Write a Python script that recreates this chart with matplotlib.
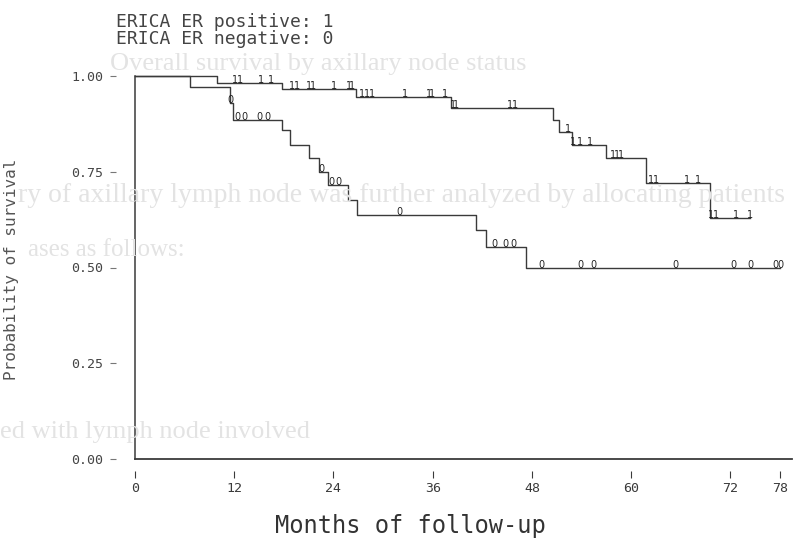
import numpy as np
import matplotlib
matplotlib.use("Agg")
import matplotlib.pyplot as plt

# Kaplan-Meier steps read per group: step times (months) and survival after each step
pos_times = [0, 9.9, 17.8, 26.7, 38.2, 50.5, 51.3, 52.8, 57.0, 61.8, 69.5]
pos_surv = [1.000, 0.982, 0.966, 0.945, 0.916, 0.885, 0.854, 0.820, 0.786, 0.721, 0.629]
pos_end = 74.4
pos_censor = [12.1, 12.7, 15.2, 16.4, 19.0, 19.6, 21.0, 21.5, 24.1, 25.9, 26.3,
              27.5, 28.1, 28.7, 32.6, 35.6, 35.9, 37.5, 38.4, 38.8, 45.3, 45.9,
              52.4, 53.0, 53.8, 55.0, 57.8, 58.3, 58.8, 62.4, 63.0, 66.7, 68.1,
              69.6, 70.3, 72.7, 74.4]

neg_times = [0, 6.7, 11.5, 11.8, 17.8, 18.8, 21.1, 22.3, 23.3, 25.7, 26.9, 41.2, 42.5, 47.3]
neg_surv = [1.000, 0.971, 0.930, 0.885, 0.859, 0.820, 0.786, 0.749, 0.715, 0.676,
            0.637, 0.598, 0.554, 0.499]
neg_end = 78.0
neg_censor = [11.6, 12.4, 13.2, 15.0, 16.0, 22.6, 23.8, 24.6, 32.0, 43.5, 44.8,
              45.7, 49.1, 53.9, 55.4, 65.3, 72.4, 74.4, 77.4, 78.0]

xticks = [0, 12, 24, 36, 48, 60, 72, 78]
yticks = [0.0, 0.25, 0.50, 0.75, 1.00]

ink = "#3a3a3a"
mono = "DejaVu Sans Mono"

W, H = 807, 543
fig = plt.figure(figsize=(W / 100, H / 100), dpi=100)
fig.patch.set_facecolor("white")

# faint print-through from the facing page
ghost = "#e3e3e3"
for gx, gy, gtxt, gsize in [(110, 64, "Overall survival by axillary node status", 19),
                            (18, 195, "ry of axillary lymph node was further analyzed by allocating patients", 20),
                            (28, 250, "ases as follows:", 18),
                            (0, 432, "ed with lymph node involved", 19)]:
    fig.text(gx / W, 1 - gy / H, gtxt, family="Liberation Serif", fontsize=gsize,
             color=ghost, va="center", ha="left", zorder=0)

x0, x1 = 135, 792
y0, y1 = 459, 76
pxm = 8.27
ax = fig.add_axes([x0 / W, 1 - y0 / H, (x1 - x0) / W, (y0 - y1) / H])
ax.set_facecolor("none")
ax.set_xlim(0, (x1 - x0) / pxm)
ax.set_ylim(0, 1)


def km_curve(times, surv, end, censor, mark):
    t = list(times) + [end]
    s = list(surv) + [surv[-1]]
    ax.step(t, s, where="post", color=ink, lw=1.0, clip_on=False)
    idx = np.searchsorted(times, censor, side="right") - 1
    for c, i in zip(censor, idx):
        ax.text(c, surv[i], mark, ha="center", va="baseline", fontsize=7,
                color="#222222", family="DejaVu Sans")


km_curve(pos_times, pos_surv, pos_end, pos_censor, "1")
km_curve(neg_times, neg_surv, neg_end, neg_censor, "0")

# axis lines drawn at the data origin, tick marks sit detached on hidden spines
ax.axvline(0, 0, 1, color=ink, lw=1.1, clip_on=False)
ax.axhline(0, color=ink, lw=1.3, clip_on=False)
for side in ["top", "right"]:
    ax.spines[side].set_visible(False)
ax.spines["left"].set_position(("outward", 18))
ax.spines["bottom"].set_position(("outward", 13.7))
ax.spines["left"].set_color("none")
ax.spines["bottom"].set_color("none")

ax.set_xticks(xticks)
ax.set_xticklabels([str(v) for v in xticks])
ax.set_yticks(yticks)
ax.set_yticklabels([f"{v:.2f}" for v in yticks])
ax.tick_params(axis="x", direction="in", length=5, width=0.8, pad=3,
               color=ink, labelcolor=ink, labelsize=9.5)
ax.tick_params(axis="y", direction="in", length=4.3, width=0.8, pad=5,
               color="#777777", labelcolor="#444444", labelsize=9.5)
for lab in ax.get_xticklabels() + ax.get_yticklabels():
    lab.set_family(mono)

fig.text(12 / W, 1 - 269 / H, "Probability of survival", rotation=90,
         ha="center", va="center", fontsize=11.5, color="#555555", family=mono)
fig.text(410 / W, 1 - 526 / H, "Months of follow-up", ha="center", va="center",
         fontsize=17, color="#333333", family=mono)
fig.text(116 / W, 1 - 22 / H, "ERICA ER positive: 1", ha="left", va="center",
         fontsize=13, color="#444444", family=mono)
fig.text(116 / W, 1 - 39 / H, "ERICA ER negative: 0", ha="left", va="center",
         fontsize=13, color="#444444", family=mono)

fig.savefig("out.png", dpi=100)
